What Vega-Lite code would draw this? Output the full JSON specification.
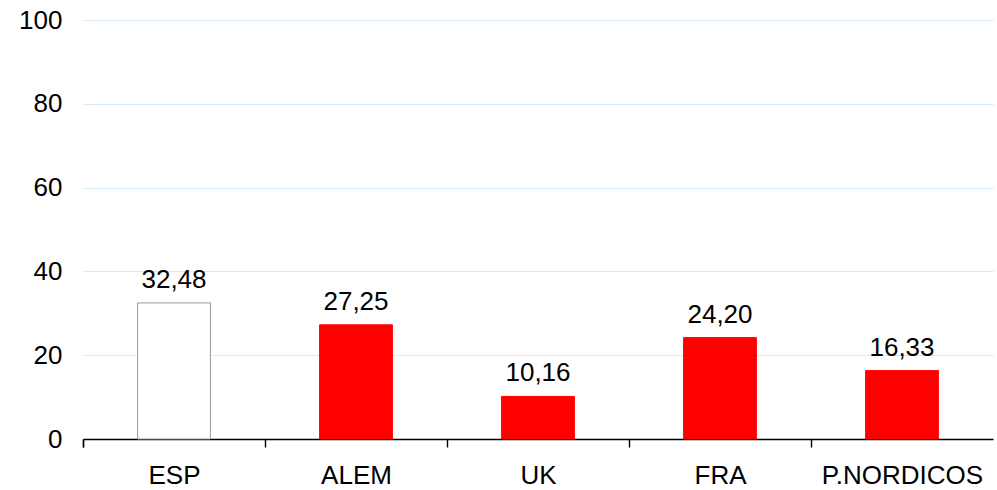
{
  "$schema": "https://vega.github.io/schema/vega-lite/v6.json",
  "autosize": "none",
  "width": 910,
  "height": 419,
  "padding": {"left": 83, "top": 20, "right": 4, "bottom": 51},
  "background": "white",
  "config": {
    "locale": {"number": {"decimal": ",", "thousands": ".", "grouping": [3], "currency": ["", " €"]}},
    "view": {"stroke": null},
    "font": "Liberation Sans"
  },
  "data": {
    "values": [
      {"pais": "ESP", "valor": 32.48, "tipo": "ref"},
      {"pais": "ALEM", "valor": 27.25, "tipo": "otro"},
      {"pais": "UK", "valor": 10.16, "tipo": "otro"},
      {"pais": "FRA", "valor": 24.20, "tipo": "otro"},
      {"pais": "P.NORDICOS", "valor": 16.33, "tipo": "otro"}
    ]
  },
  "encoding": {
    "x": {
      "field": "pais", "type": "nominal", "sort": null,
      "scale": {"paddingInner": 0.6, "paddingOuter": 0.3},
      "axis": {
        "title": null, "labelAngle": 0, "labelFontSize": 26, "labelColor": "#000000",
        "domainColor": "#000000", "domainWidth": 1.5, "ticks": true, "tickColor": "#000000", "tickSize": 8, "tickWidth": 1.4,
        "bandPosition": 0, "tickOffset": -54.6, "labelOffset": 54.6, "tickExtra": true, "labelPadding": 15, "grid": false
      }
    },
    "y": {
      "field": "valor", "type": "quantitative",
      "scale": {"domain": [0, 100], "nice": false},
      "axis": {
        "title": null, "values": [0, 20, 40, 60, 80, 100], "labelFontSize": 26, "labelColor": "#000000",
        "domain": false, "ticks": false, "labelPadding": 21,
        "gridColor": "#d5eaf6", "gridWidth": 1.2
      }
    }
  },
  "layer": [
    {
      "mark": {"type": "bar", "strokeWidth": 1},
      "encoding": {
        "fill": {"field": "tipo", "type": "nominal", "scale": {"domain": ["ref", "otro"], "range": ["#ffffff", "#ff0000"]}, "legend": null},
        "stroke": {"field": "tipo", "type": "nominal", "scale": {"domain": ["ref", "otro"], "range": ["#999999", "#ff0000"]}, "legend": null}
      }
    },
    {
      "mark": {"type": "text", "fontSize": 26, "dy": -15, "baseline": "alphabetic", "color": "#000000"},
      "encoding": {
        "text": {"field": "valor", "type": "quantitative", "format": ".2f"}
      }
    }
  ]
}
